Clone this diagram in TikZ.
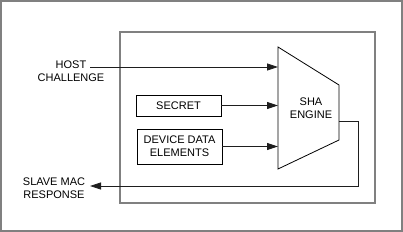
\documentclass[tikz,border=0pt]{standalone}
\usepackage{fontspec}
\setmainfont{Liberation Sans}
\usetikzlibrary{arrows.meta,positioning}
\definecolor{frame}{RGB}{128,128,128}
\definecolor{wire}{RGB}{30,30,30}

\begin{document}
\begin{tikzpicture}[x=1pt, y=-1pt,
  box/.style={draw=black, line width=0.8pt, minimum width=85pt, align=center,
    inner sep=0pt, font=\fontsize{11}{13}\selectfont},
  tag/.style={align=center, inner sep=0pt, font=\fontsize{11}{13}\selectfont},
  arrow/.style={-{Triangle[length=11pt,width=7pt]}, draw=wire, line width=0.8pt}
]
\useasboundingbox (0,0) rectangle (403,232);
% frames
\draw[frame, line width=2pt] (1,1) rectangle (402,231);
\draw[frame, line width=1.6pt] (120,32) rectangle (375,203);

% SHA engine
\coordinate (sha1) at (278,47);
\coordinate (sha2) at (339,85);
\coordinate (sha3) at (339,140);
\coordinate (sha4) at (278,169);
\draw[black, line width=0.8pt] (sha1) -- (sha2) -- (sha3) -- (sha4) -- cycle;
\node[tag] (sha) at (311,108) {SHA\\ENGINE};

% inputs
\node[box, minimum height=21pt] (secret) at (178.5,105.5) {SECRET};
\node[box, minimum height=35pt] (device) at (179.5,146.5) {DEVICE DATA\\ELEMENTS};
\node[tag] (host) at (71,71.5) {HOST\\CHALLENGE};
\node[tag] (slave) at (54,188) {SLAVE MAC\\RESPONSE};

\coordinate (hostout) at (90,67);
\coordinate (hostin) at (278,67);
\coordinate (secretin) at (278,105.5);
\coordinate (devicein) at (278,146.5);
\coordinate (shaout) at (339,121);
\coordinate (bend) at (358,186);
\coordinate (slavein) at (90,186);

\draw[arrow] (hostout) -- (hostin);
\draw[arrow] (secret) -- (secretin);
\draw[arrow] (device) -- (devicein);
\draw[arrow] (shaout) -| (bend) -- (slavein);
\end{tikzpicture}
\end{document}
